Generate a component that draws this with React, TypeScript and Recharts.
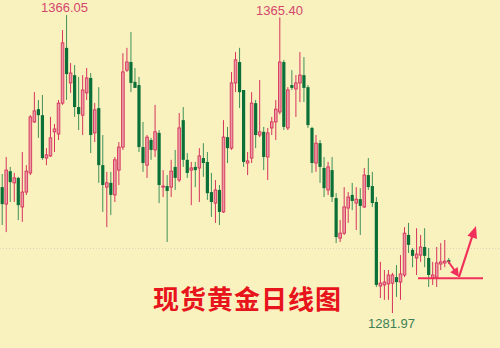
import React from 'react';
import { ComposedChart, Bar, XAxis, YAxis } from 'recharts';

const opens = [
  1317.5, 1312.7, 1322.0, 1318.7, 1320.1, 1311.9, 1316.1, 1321.5, 1335.9, 1339.5,
  1337.8, 1325.7, 1326.3, 1333.1, 1332.5, 1341.2, 1356.8, 1346.9, 1349.1, 1340.1,
  1337.8, 1344.1, 1348.3, 1332.8, 1339.8, 1323.7, 1317.5, 1318.7, 1315.3, 1322.3,
  1328.8, 1350.5, 1352.8, 1347.2, 1346.3, 1328.8, 1323.7, 1330.8, 1328.0, 1332.8,
  1317.5, 1317.8, 1317.5, 1323.2, 1319.5, 1336.4, 1325.2, 1322.3, 1323.2, 1322.9,
  1325.7, 1324.6, 1316.1, 1313.0, 1316.7, 1310.5, 1331.6, 1328.5, 1346.9, 1352.8,
  1344.9, 1324.3, 1325.7, 1341.2, 1332.2, 1333.1, 1326.0, 1334.2, 1335.9, 1338.7,
  1352.8, 1334.2, 1346.3, 1345.2, 1346.9, 1349.1, 1345.7, 1334.2, 1324.3, 1329.9,
  1322.9, 1316.7, 1322.3, 1314.4, 1303.1, 1304.5, 1311.6, 1315.3, 1313.0, 1314.1,
  1311.9, 1320.9, 1317.8, 1313.3, 1289.6, 1289.9, 1290.2, 1290.4, 1292.1, 1290.7,
  1292.7, 1304.0, 1299.8, 1297.5, 1298.3, 1300.6, 1297.5, 1291.9, 1292.1, 1295.8,
  1296.1, 1296.9,
];

const highs = [
  1321.2, 1326.0, 1323.2, 1321.5, 1320.4, 1327.4, 1323.7, 1337.8, 1344.3, 1342.1,
  1343.5, 1328.5, 1337.3, 1335.3, 1342.1, 1361.8, 1366.05, 1352.5, 1351.96, 1348.6,
  1349.1, 1351.1, 1349.7, 1341.2, 1345.7, 1332.2, 1321.8, 1321.8, 1326.0, 1330.2,
  1355.3, 1356.8, 1361.3, 1351.1, 1348.6, 1335.9, 1332.2, 1331.4, 1340.7, 1333.6,
  1322.3, 1320.9, 1325.2, 1328.0, 1338.4, 1340.1, 1327.1, 1324.6, 1324.6, 1328.5,
  1329.9, 1327.4, 1321.5, 1319.5, 1318.1, 1336.4, 1334.5, 1350.0, 1355.6, 1356.8,
  1344.9, 1327.4, 1344.3, 1342.1, 1347.7, 1334.5, 1334.2, 1337.3, 1342.1, 1365.40,
  1353.4, 1345.7, 1350.5, 1349.1, 1355.6, 1354.2, 1346.3, 1334.5, 1332.2, 1330.8,
  1326.0, 1324.6, 1326.0, 1315.8, 1308.2, 1317.5, 1316.1, 1318.7, 1317.5, 1317.2,
  1322.9, 1325.7, 1321.8, 1314.7, 1296.4, 1294.1, 1294.1, 1293.3, 1295.5, 1298.3,
  1306.2, 1307.4, 1300.3, 1305.9, 1304.0, 1305.9, 1300.3, 1296.4, 1300.6, 1301.7,
  1302.6, 1297.5,
];

const lows = [
  1306.8, 1304.8, 1313.3, 1313.3, 1308.2, 1307.7, 1315.3, 1320.9, 1335.6, 1331.4,
  1325.2, 1323.7, 1326.0, 1327.4, 1330.8, 1340.7, 1342.1, 1344.1, 1337.3, 1333.6,
  1332.2, 1342.1, 1327.1, 1330.2, 1318.7, 1310.5, 1306.2, 1309.6, 1313.3, 1318.1,
  1328.0, 1350.0, 1344.3, 1345.5, 1327.4, 1321.8, 1320.1, 1325.2, 1326.0, 1313.0,
  1314.7, 1302.0, 1314.7, 1316.7, 1318.9, 1323.2, 1320.1, 1312.4, 1317.5, 1313.3,
  1320.4, 1313.9, 1309.1, 1307.4, 1306.8, 1310.2, 1324.3, 1328.0, 1344.3, 1339.8,
  1323.2, 1320.9, 1324.3, 1328.5, 1331.6, 1322.3, 1319.5, 1332.2, 1330.8, 1338.0,
  1333.6, 1333.6, 1344.9, 1337.3, 1341.5, 1341.5, 1334.2, 1321.5, 1321.8, 1318.7,
  1314.7, 1315.3, 1313.3, 1301.7, 1302.0, 1304.0, 1307.4, 1311.0, 1305.4, 1304.0,
  1311.6, 1316.7, 1311.9, 1289.3, 1286.2, 1285.7, 1285.7, 1281.97, 1286.5, 1285.7,
  1292.1, 1298.9, 1294.9, 1292.7, 1296.4, 1294.9, 1289.3, 1289.9, 1289.3, 1294.1,
  1294.9, 1295.8,
];

const closes = [
  1312.7, 1322.3, 1318.9, 1320.1, 1312.4, 1316.1, 1322.0, 1337.3, 1339.0, 1337.8,
  1325.7, 1326.6, 1331.4, 1333.9, 1341.2, 1358.2, 1349.4, 1349.7, 1340.1, 1338.1,
  1344.9, 1348.3, 1332.2, 1339.3, 1323.7, 1318.1, 1318.7, 1315.3, 1325.2, 1328.8,
  1350.0, 1352.8, 1346.9, 1345.5, 1328.8, 1324.3, 1331.6, 1328.0, 1333.1, 1318.1,
  1317.8, 1316.4, 1322.0, 1320.1, 1334.2, 1325.2, 1321.5, 1322.9, 1322.3, 1326.3,
  1324.3, 1315.8, 1313.3, 1316.7, 1310.5, 1331.6, 1328.5, 1346.9, 1353.4, 1344.3,
  1324.6, 1324.9, 1341.2, 1332.2, 1333.1, 1326.0, 1332.8, 1335.9, 1339.5, 1352.8,
  1334.5, 1344.9, 1345.5, 1346.9, 1349.1, 1345.5, 1335.0, 1324.3, 1329.9, 1323.2,
  1317.2, 1323.2, 1314.7, 1303.4, 1304.5, 1311.9, 1314.7, 1313.6, 1314.1, 1312.2,
  1320.9, 1317.5, 1313.0, 1289.9, 1290.4, 1290.7, 1292.7, 1292.7, 1290.7, 1293.0,
  1304.5, 1301.2, 1298.1, 1298.6, 1300.6, 1298.1, 1292.7, 1292.7, 1296.1, 1296.4,
  1296.6, 1296.4,
];

const categories = opens.map((_, i) => `D${i + 1}`);

const highLabel1 = '1366.05';
const highLabel2 = '1365.40';
const lowLabel = '1281.97';
const title = '现货黄金日线图';

const data = categories.map((name, i) => ({
  name,
  open: opens[i],
  high: highs[i],
  low: lows[i],
  close: closes[i],
}));

const BG = '#f9f2bf';
const UP_STROKE = '#d6335c';
const UP_FILL = '#e99aa3';
const DOWN_FILL = '#0b7038';
const DOWN_WICK = '#3f9159';
const ANNOT = '#f0305a';

function Candle(props: any) {
  const { x, y, width, height, payload } = props;
  if (x == null || y == null || !payload) return null;
  const top = Math.min(y, y + height);
  const h = Math.abs(height);
  const { open, high, low, close } = payload;
  const span = high - low || 1;
  const toY = (v: number) => top + ((high - v) / span) * h;
  const cx = x + width / 2;
  const up = close >= open;
  const yO = toY(open);
  const yC = toY(close);
  const bTop = Math.min(yO, yC);
  const bH = Math.max(Math.abs(yO - yC), 1);
  if (up) {
    return (
      <g>
        <line x1={cx} x2={cx} y1={top} y2={top + h} stroke={UP_STROKE} strokeWidth={1} />
        <rect x={cx - 1.3} y={bTop} width={2.6} height={bH} fill={UP_FILL} stroke={UP_STROKE} strokeWidth={0.9} />
      </g>
    );
  }
  return (
    <g>
      <line x1={cx} x2={cx} y1={top} y2={top + h} stroke={DOWN_WICK} strokeWidth={1} />
      <rect x={cx - 1.6} y={bTop} width={3.2} height={bH} fill={DOWN_FILL} />
    </g>
  );
}

function arrowHead(tx: number, ty: number, fx: number, fy: number, len: number, half: number) {
  const dx = tx - fx;
  const dy = ty - fy;
  const d = Math.hypot(dx, dy) || 1;
  const ux = dx / d;
  const uy = dy / d;
  const bx = tx - ux * len;
  const by = ty - uy * len;
  const px = -uy;
  const py = ux;
  return `${tx},${ty} ${bx + px * half},${by + py * half} ${bx - px * half},${by - py * half}`;
}

export default function App() {
  return (
    <div style={{ position: 'absolute', left: 0, top: 0, width: 500, height: 348, background: BG, overflow: 'hidden' }}>
      <svg width={500} height={348} style={{ position: 'absolute', left: 0, top: 0 }}>
        <line x1={0} x2={500} y1={248.5} y2={248.5} stroke="#ddd3b6" strokeWidth={1} strokeDasharray="1 2" />
      </svg>
      <div style={{ position: 'absolute', left: 0, top: 0 }}>
        <ComposedChart
          width={500}
          height={348}
          data={data}
          margin={{ top: 0, right: 49.1, bottom: 0, left: 0.29 }}
          barCategoryGap="10%"
        >
          <XAxis dataKey="name" hide />
          <YAxis hide domain={[1272.1, 1370.3]} allowDataOverflow />
          <Bar
            dataKey={(d: any) => [d.low, d.high]}
            shape={Candle}
            isAnimationActive={false}
          />
        </ComposedChart>
      </div>
      <svg width={500} height={348} style={{ position: 'absolute', left: 0, top: 0 }}>
        <text x={41} y={12} fill="#d4466c" fontSize={13} fontFamily="'Liberation Sans', Arial, sans-serif">{highLabel1}</text>
        <text x={256} y={14.5} fill="#d4466c" fontSize={13} fontFamily="'Liberation Sans', Arial, sans-serif">{highLabel2}</text>
        <text x={368} y={328} fill="#3e7f55" fontSize={13} fontFamily="'Liberation Sans', Arial, sans-serif">{lowLabel}</text>
        <text x={153} y={309} fill="#e8141c" fontSize={26} fontWeight="bold" letterSpacing={1} fontFamily="'Noto Sans CJK SC', sans-serif">{title}</text>
        <line x1={418} x2={483} y1={278.3} y2={278.3} stroke={ANNOT} strokeWidth={2} />
        <line x1={448} y1={261} x2={455} y2={271} stroke={ANNOT} strokeWidth={2} />
        <polygon points={arrowHead(459, 277, 448, 261, 9, 4.5)} fill={ANNOT} />
        <line x1={459} y1={277} x2={472} y2={237} stroke={ANNOT} strokeWidth={2.2} />
        <polygon points={arrowHead(476, 226, 459, 277, 12, 5)} fill={ANNOT} />
      </svg>
    </div>
  );
}
